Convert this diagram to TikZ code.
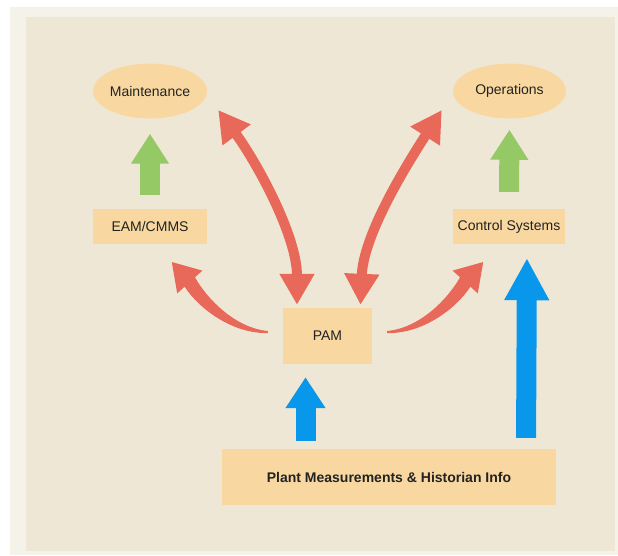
\documentclass[tikz,border=0pt]{standalone}
\usepackage{fontspec}
\setmainfont{Liberation Sans}
\usetikzlibrary{arrows.meta,shapes.geometric,calc}
\definecolor{pagebg}{HTML}{F5F2EA}
\definecolor{panelbg}{HTML}{EFE7D6}
\definecolor{boxfill}{HTML}{F8D8A0}
\definecolor{redarr}{HTML}{E8695A}
\definecolor{greenarr}{HTML}{95C965}
\definecolor{bluearr}{HTML}{0897EA}
\definecolor{txt}{HTML}{222222}
\tikzset{
  lbl/.style={text=txt, font=\fontsize{14}{16}\selectfont, inner sep=0pt},
  boxnode/.style={lbl, rectangle, fill=boxfill},
  ellnode/.style={lbl, ellipse, fill=boxfill},
  greenblock/.style={greenarr, line width=20pt, -{Triangle[width=36pt,length=30pt]}},
  blueblock/.style={bluearr, line width=20pt, -{Triangle[width=38pt,length=31pt]}},
  bluelong/.style={bluearr, line width=20pt, -{Triangle[width=42pt,length=42pt]}},
  reddouble/.style={redarr, line width=10pt,
     {Triangle[width=33pt,length=31pt]}-{Triangle[width=33pt,length=31pt]}},
  redfill/.style={fill=redarr, draw=none}
}
\begin{document}
\begin{tikzpicture}[x=1pt,y=-1pt]
\useasboundingbox (0,0) rectangle (618,555);
\fill[white] (0,0) rectangle (618,555);
\fill[pagebg] (10,7) rectangle (618,555);
\fill[panelbg] (26,17) rectangle (615,551);

% nodes
\node[ellnode, minimum width=114pt, minimum height=55pt] (Maint) at (150,91) {Maintenance};
\node[ellnode, minimum width=113pt, minimum height=55pt] (Oper) at (509.5,91) {Operations};
\node[boxnode, minimum width=114pt, minimum height=35pt] (EAM) at (150,226.5) {EAM/CMMS};
\node[boxnode, minimum width=112pt, minimum height=35pt] (Ctrl) at (509,226.5) {Control Systems};
\node[boxnode, minimum width=89pt, minimum height=56pt] (PAM) at (327.5,336) {PAM};
\node[boxnode, minimum width=334pt, minimum height=56pt, font=\fontsize{14}{16}\selectfont\bfseries] (Plant) at (389,477) {Plant Measurements \& Historian Info};

% green block arrows
\draw[greenblock, shorten <=14pt, shorten >=15pt] (EAM.north) -- (Maint.south);
\draw[greenblock, shorten <=17pt, shorten >=11pt] (Ctrl.north) -- (Oper.south);

% blue block arrows
\draw[blueblock, shorten <=8pt, shorten >=13pt] ([xshift=-83.5pt]Plant.north) -- ([xshift=-22pt]PAM.south);
\draw[bluelong, shorten <=11pt, shorten >=14pt] ([xshift=137pt]Plant.north) -- ([xshift=18pt]Ctrl.south);

% red double arrows
\draw[reddouble] ($(Maint.east)+(11,19)$) .. controls +(37,50) and +(0,-70) .. ($(PAM.north)+(-30.5,-3)$);
\draw[reddouble] ($(Oper.west)+(-11,19)$) .. controls +(-32,50) and +(3,-72) .. ($(PAM.north)+(33,-3)$);

% red tapered side arrows
\begin{scope}[shift={(PAM.west)}]
  \fill[redfill] (-15,-5) .. controls (-47,-8) and (-75,-36) .. (-87.8,-58.7)
     -- (-80.4,-65.4) -- (-111,-74) -- (-105.6,-42.6) -- (-98.2,-49.3)
     .. controls (-83,-26) and (-49,-2) .. (-15,-3) -- cycle;
\end{scope}
\begin{scope}[shift={(PAM.east)}, xscale=-1]
  \fill[redfill] (-15,-5) .. controls (-47,-8) and (-75,-36) .. (-87.8,-58.7)
     -- (-80.4,-65.4) -- (-111,-74) -- (-105.6,-42.6) -- (-98.2,-49.3)
     .. controls (-83,-26) and (-49,-2) .. (-15,-3) -- cycle;
\end{scope}
\end{tikzpicture}
\end{document}
